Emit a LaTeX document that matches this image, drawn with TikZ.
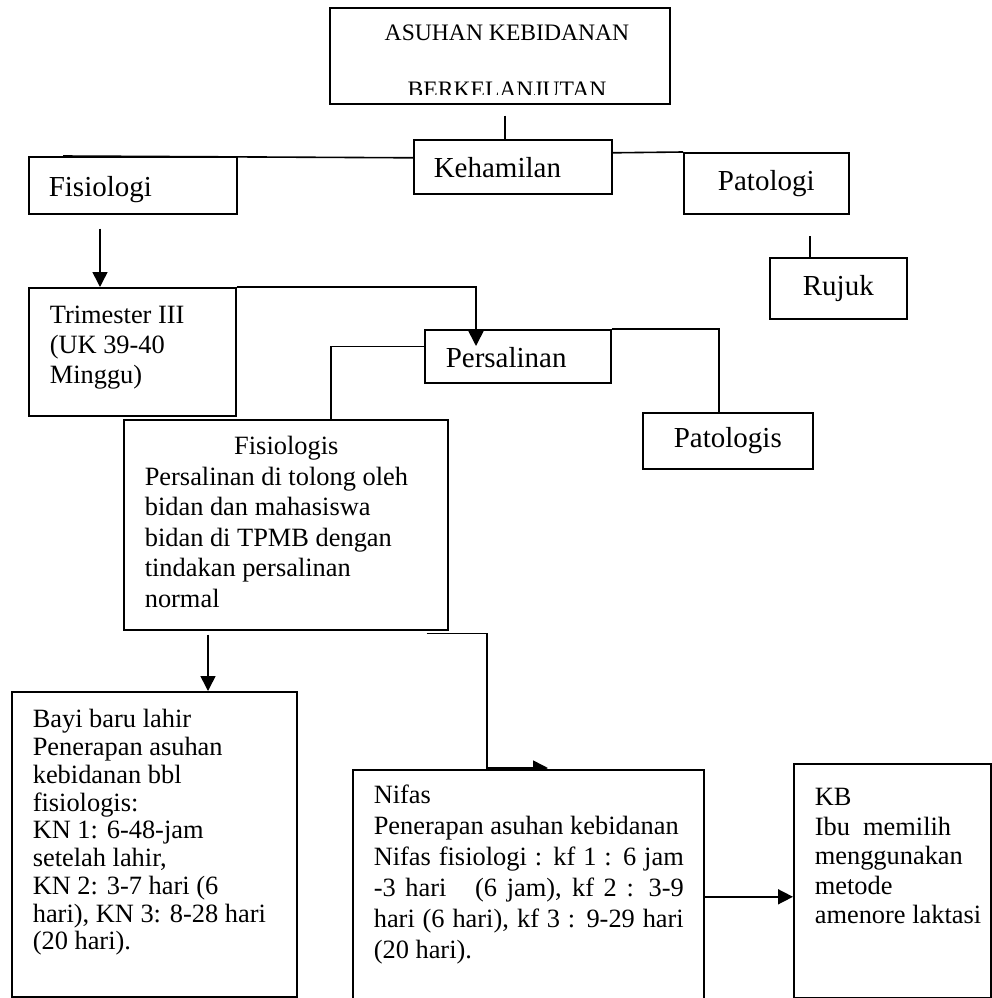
\documentclass[tikz,border=0pt]{standalone}
\usepackage{fontspec}
\setmainfont{Liberation Serif}
\usepackage{tikz}
\usetikzlibrary{positioning,arrows.meta,calc,backgrounds}
\tikzset{
  kotak/.style={rectangle, draw=black, fill=white, line width=1.6pt,
                anchor=north west, inner sep=0pt, font=\fontsize{29}{34}\selectfont},
  kotakkiri/.style={kotak, inner xsep=20pt, align=left, text height=22pt, text depth=0pt},
  kotakisi/.style={kotak, font=\fontsize{26.4}{30.5}\selectfont},
  judul/.style={font=\fontsize{23.6}{57}\selectfont, align=center, inner sep=0pt},
  garis/.style={draw=black, line width=1.6pt},
  panah/.style={garis, -{Triangle[length=15pt,width=15pt]}},
}
\newcommand{\Isi}[4]{\parbox[c][#1][t]{#2}{\leftskip=21pt\relax\rule{0pt}{#3}#4}}

\begin{document}
\begin{tikzpicture}[x=1pt, y=-1pt]
  \useasboundingbox (0,0) rectangle (992,998);
  \node[kotak, minimum width=340pt, minimum height=96pt] (asuhan) at (329,7) {};
  \begin{scope}
    \clip (asuhan.north west) rectangle ([yshift=10pt]asuhan.south east);
    \node[judul, anchor=base] (asuhanteks) at (507,97) {ASUHAN KEBIDANAN\\BERKELANJUTAN};
  \end{scope}
  \node[kotakkiri, text width=158pt, minimum height=54pt] (hamil) at (413,139) {Kehamilan};
  \node[kotakkiri, text width=168pt, minimum height=57pt] (fisio) at (28,156) {Fisiologi};
  \node[kotak, minimum width=165pt, minimum height=61pt] (pato) at (683,152) {Patologi};
  \node[kotak, minimum width=137pt, minimum height=61pt] (rujuk) at (769,257) {Rujuk};
  \node[kotakisi, font=\fontsize{26.4}{30}\selectfont] (trim) at (28,287)
    {\Isi{128pt}{207pt}{36pt}{Trimester III\\(UK 39-40\\Minggu)}};
  \node[kotakkiri, inner xsep=21pt, text width=144pt, minimum height=53pt] (pers) at (424,329) {Persalinan};
  \node[kotak, minimum width=170pt, minimum height=56pt] (patgis) at (642,412) {Patologis};
  \node[kotakisi] (fgis) at (123,419)
    {\Isi{210pt}{324pt}{35pt}{\makebox[283pt]{Fisiologis}\\
      Persalinan di tolong oleh\\
      bidan dan mahasiswa\\
      bidan di TPMB dengan\\
      tindakan persalinan\\
      normal}};
  \node[kotakisi, font=\fontsize{26.4}{27.75}\selectfont] (bayi) at (11,691)
    {\Isi{305pt}{285pt}{36pt}{Bayi baru lahir\\
      Penerapan asuhan\\
      kebidanan bbl\\
      fisiologis:\\
      KN 1: 6-48-jam\\
      setelah lahir,\\
      KN 2: 3-7 hari (6\\
      hari), KN 3: 8-28 hari\\
      (20 hari).}};
  \node[kotakisi, font=\fontsize{26.4}{31}\selectfont] (nifas) at (352,769)
    {\Isi{245pt}{351pt}{34pt}{Nifas\\
      Penerapan asuhan kebidanan\\
      \makebox[310pt][s]{Nifas fisiologi : kf 1 : 6 jam}\\
      \makebox[310pt][s]{-3 hari\ \ \ (6 jam), kf 2 : 3-9}\\
      \makebox[310pt][s]{hari (6 hari), kf 3 : 9-29 hari}\\
      (20 hari).}};
  \node[kotakisi, font=\fontsize{26.4}{29.5}\selectfont] (kb) at (793,763)
    {\Isi{234pt}{197pt}{42pt}{KB\\
      Ibu\ \ memilih\\
      menggunakan\\
      metode\\
      amenore laktasi}};
  \coordinate (kbmasuk) at ([yshift=-16pt]kb.west);

  \draw[garis] ($(asuhan.south)+(5,11)$) -- ($(hamil.north)+(-8,0)$);
  \draw[garis] ([yshift=9pt]hamil.west) -- ([xshift=35pt]fisio.north west);
  \draw[garis] ([yshift=14pt]hamil.east) -- (pato.north west);
  \draw[garis] ($(rujuk.north west)+(41,-21)$) -- ($(rujuk.north west)+(41,0)$);
  \draw[panah] ($(fisio.south west)+(72,14)$) -- ($(trim.north west)+(72,0)$);
  \draw[panah] (trim.north east) -| ($(pers.north west)+(52,17)$);
  \draw[garis] ([yshift=10pt]pers.west) -| ($(fgis.north west)+(208,0)$);
  \draw[garis] (pers.north east) -| ($(patgis.north west)+(77,0)$);
  \draw[panah] ($(fgis.south west)+(85,4)$) -- ($(bayi.north west)+(197,0)$);
  \begin{scope}[on background layer]
    \draw[panah] ([xshift=-22pt,yshift=-3pt]fgis.south east)
      -| ($(nifas.north west)+(135,-1)$) -- ($(nifas.north west)+(196,-1)$);
  \end{scope}
  \draw[panah] (nifas.east |- kbmasuk) -- (kbmasuk);
\end{tikzpicture}
\end{document}
